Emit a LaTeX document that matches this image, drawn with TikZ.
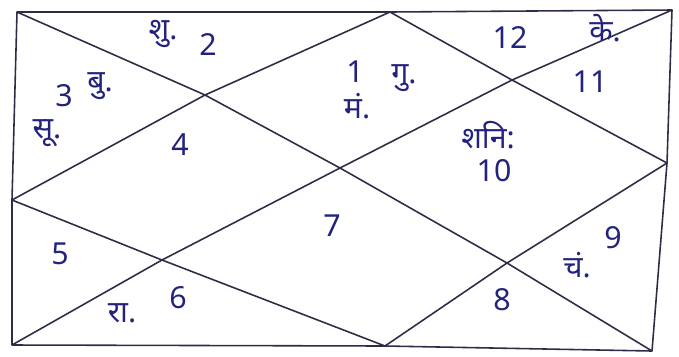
\documentclass[tikz,border=0pt]{standalone}
\usepackage{fontspec}
\newfontfamily\deva[Script=Devanagari]{Noto Sans}
\definecolor{ink}{RGB}{45,45,70}
\definecolor{pen}{RGB}{35,35,125}
\tikzset{
  chartline/.style={draw=ink, line width=0.9pt, line join=round},
  lbl/.style={text=pen, font=\deva\LARGE, inner sep=1pt},
  num/.style={text=pen, font=\deva\LARGE, inner sep=1pt}
}
\begin{document}
\begin{tikzpicture}[x=0.02cm, y=-0.02cm]
                \useasboundingbox (0,0) rectangle (679,356);
                % outer frame
                \coordinate (TL) at (17,12);
                \coordinate (TR) at (672,10);
                \coordinate (BR) at (652,351);
                \coordinate (BL) at (12,345);
                \coordinate (T) at (390,12);
                \coordinate (R) at (667,163);
                \coordinate (B) at (385,346);
                \coordinate (L) at (12,200);
                % crossings
                \coordinate (C) at (340,168);
                \coordinate (UL) at (205,95);
                \coordinate (UR) at (512,80);
                \coordinate (LR) at (507,263);
                \coordinate (LL) at (162,260);
                \draw[chartline] (TL) -- (T) -- (TR) -- (R) -- (BR) -- (B) -- (BL) -- (L) -- cycle;
                % diagonals
                \draw[chartline] (TL) -- (UL) -- (C) -- (LR) -- (BR);
                \draw[chartline] (TR) -- (UR) -- (C) -- (LL) -- (BL);
                % inner diamond
                \draw[chartline] (L) -- (UL) -- (T) -- (UR) -- (R) -- (LR) -- (B) -- (LL) -- cycle;
                % houses and planets
                \node[lbl] (shu) at (163,34) {शु.};
                \node[num] (h2) at (208,45) {2};
                \node[num] (h3) at (64,96) {3};
                \node[lbl] (bu) at (100,86) {बु.};
                \node[lbl] (su) at (47,133) {सू.};
                \node[num] (h4) at (180,145) {4};
                \node[num] (h1) at (355,72) {1};
                \node[lbl] (gu) at (404,78) {गु.};
                \node[lbl] (man) at (357,106) {मं.};
                \node[num] (h12) at (510,38) {12};
                \node[lbl] (ke) at (605,28) {के.};
                \node[num] (h11) at (590,82) {11};
                \node[lbl] (shani) at (488,135) {शनि:};
                \node[num] (h10) at (494,171) {10};
                \node[num] (h5) at (60,254) {5};
                \node[num] (h7) at (332,226) {7};
                \node[lbl] (ra) at (122,313) {रा.};
                \node[num] (h6) at (178,298) {6};
                \node[num] (h8) at (502,300) {8};
                \node[lbl] (chan) at (577,265) {चं.};
                \node[num] (h9) at (613,238) {9};
\end{tikzpicture}
\end{document}
